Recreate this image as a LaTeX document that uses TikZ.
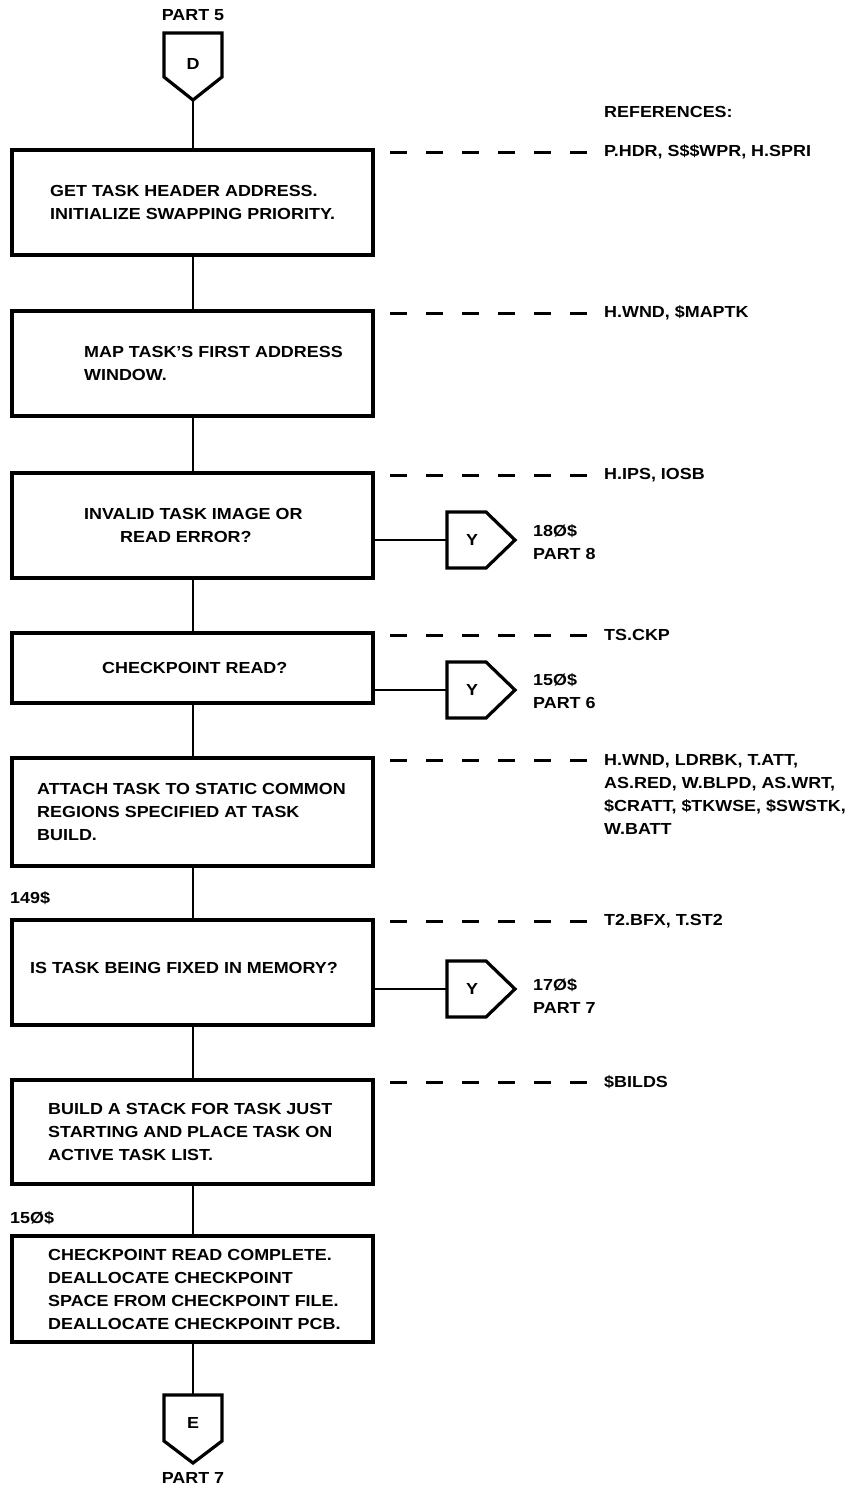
\documentclass[tikz,border=0pt]{standalone}
\usepackage{fontspec}
\setmainfont{Liberation Sans}[FakeStretch=1.12]
\begin{document}
\begin{tikzpicture}[x=1pt,y=-1pt,
  box/.style={draw, line width=3.2pt, inner sep=0pt, minimum width=361pt},
  txt/.style={font=\fontsize{16}{23}\selectfont\bfseries, inner sep=0pt, align=left},
  flow/.style={line width=2.8pt},
  refdash/.style={line width=3pt, dash pattern=on 17pt off 19pt},
  conn/.style={line width=3.2pt, line join=miter}]
\useasboundingbox (0,0) rectangle (858,1489);

% ---- top off-page connector D
\node[txt] (p5) at (193,15) {PART 5};
\draw[conn] (164,33) -- (222,33) -- (222,77) -- (193,100) -- (164,77) -- cycle;
\node[txt] (dl) at (193,64) {D};
\coordinate (dtip) at (193,100);

% ---- boxes
\node[box, minimum height=105pt] (b1) at (192.5,202.5) {};
\node[box, minimum height=105pt] (b2) at (192.5,363.5) {};
\node[box, minimum height=105pt] (b3) at (192.5,525.5) {};
\node[box, minimum height=70pt]  (b4) at (192.5,668) {};
\node[box, minimum height=108pt] (b5) at (192.5,812) {};
\node[box, minimum height=105pt] (b6) at (192.5,972.5) {};
\node[box, minimum height=104pt] (b7) at (192.5,1132) {};
\node[box, minimum height=106pt] (b8) at (192.5,1289) {};

% ---- box texts
\node[txt, anchor=west] (t1) at (50,202) {GET TASK HEADER ADDRESS.\\INITIALIZE SWAPPING PRIORITY.};
\node[txt, anchor=west] (t2) at (84,363) {MAP TASK'S FIRST ADDRESS\\WINDOW.};
\node[txt, anchor=west] (t3) at (84,525) {INVALID TASK IMAGE OR\\\hspace*{36pt}READ ERROR?};
\node[txt, anchor=west] (t4) at (102,668) {CHECKPOINT READ?};
\node[txt, anchor=west] (t5) at (37,812) {ATTACH TASK TO STATIC COMMON\\REGIONS SPECIFIED AT TASK\\BUILD.};
\node[txt, anchor=west] (t6) at (30,968) {IS TASK BEING FIXED IN MEMORY?};
\node[txt, anchor=west] (t7) at (48,1132) {BUILD A STACK FOR TASK JUST\\STARTING AND PLACE TASK ON\\ACTIVE TASK LIST.};
\node[txt, anchor=west] (t8) at (48,1289) {CHECKPOINT READ COMPLETE.\\DEALLOCATE CHECKPOINT\\SPACE FROM CHECKPOINT FILE.\\DEALLOCATE CHECKPOINT PCB.};

% ---- labels
\node[txt, anchor=west] (l149) at (10,898) {149\$};
\node[txt, anchor=west] (l150) at (10,1218) {15Ø\$};

% ---- bottom off-page connector E
\draw[conn] (164,1395) -- (222,1395) -- (222,1441) -- (193,1463) -- (164,1441) -- cycle;
\node[txt] (el) at (193,1423) {E};
\coordinate (etop) at (193,1395);
\node[txt] (p7) at (193,1478) {PART 7};

% ---- main flow
\draw[flow] (dtip) -- (dtip |- b1.north);
\draw[flow] (b1.south -| dtip) -- (b2.north -| dtip);
\draw[flow] (b2.south -| dtip) -- (b3.north -| dtip);
\draw[flow] (b3.south -| dtip) -- (b4.north -| dtip);
\draw[flow] (b4.south -| dtip) -- (b5.north -| dtip);
\draw[flow] (b5.south -| dtip) -- (b6.north -| dtip);
\draw[flow] (b6.south -| dtip) -- (b7.north -| dtip);
\draw[flow] (b7.south -| dtip) -- (b8.north -| dtip);
\draw[flow] (b8.south -| dtip) -- (etop);

% ---- Y connectors
\coordinate (y3) at (447,540);
\coordinate (y4) at (447,690);
\coordinate (y6) at (447,989);
\foreach \c in {y3,y4,y6}{
  \draw[conn] (\c) ++(0,-28) -- ++(39,0) -- ++(29,28) -- ++(-29,28) -- ++(-39,0) -- cycle;
}
\node[txt] (yl3) at (472,540) {Y};
\node[txt] (yl4) at (472,690) {Y};
\node[txt] (yl6) at (472,989) {Y};
\draw[flow] (b3.east |- y3) -- (y3);
\draw[flow] (b4.east |- y4) -- (y4);
\draw[flow] (b6.east |- y6) -- (y6);
\node[txt, anchor=west] (o3) at (533,542) {18Ø\$\\PART 8};
\node[txt, anchor=west] (o4) at (533,691) {15Ø\$\\PART 6};
\node[txt, anchor=west] (o6) at (533,996) {17Ø\$\\PART 7};

% ---- references
\node[txt, anchor=west] (refh) at (604,112) {REFERENCES:};
\coordinate (d1) at (390,152); \coordinate (e1) at (587,152);
\coordinate (d2) at (390,313); \coordinate (e2) at (587,313);
\coordinate (d3) at (390,475); \coordinate (e3) at (587,475);
\coordinate (d4) at (390,635); \coordinate (e4) at (587,635);
\coordinate (d5) at (390,760); \coordinate (e5) at (587,760);
\coordinate (d6) at (390,921); \coordinate (e6) at (587,921);
\coordinate (d7) at (390,1082); \coordinate (e7) at (587,1082);
\foreach \i in {1,...,7}{ \draw[refdash] (d\i) -- (e\i); }
\node[txt, anchor=west] (r1) at (604,152) {P.HDR, S\$\$WPR, H.SPRI};
\node[txt, anchor=west] (r2) at (604,313) {H.WND, \$MAPTK};
\node[txt, anchor=west] (r3) at (604,475) {H.IPS, IOSB};
\node[txt, anchor=west] (r4) at (604,635) {TS.CKP};
\node[txt, anchor=north west] (r5) at (604,754) {H.WND, LDRBK, T.ATT,\\AS.RED, W.BLPD, AS.WRT,\\\$CRATT, \$TKWSE, \$SWSTK,\\W.BATT};
\node[txt, anchor=west] (r6) at (604,921) {T2.BFX, T.ST2};
\node[txt, anchor=west] (r7) at (604,1082) {\$BILDS};
\end{tikzpicture}
\end{document}
